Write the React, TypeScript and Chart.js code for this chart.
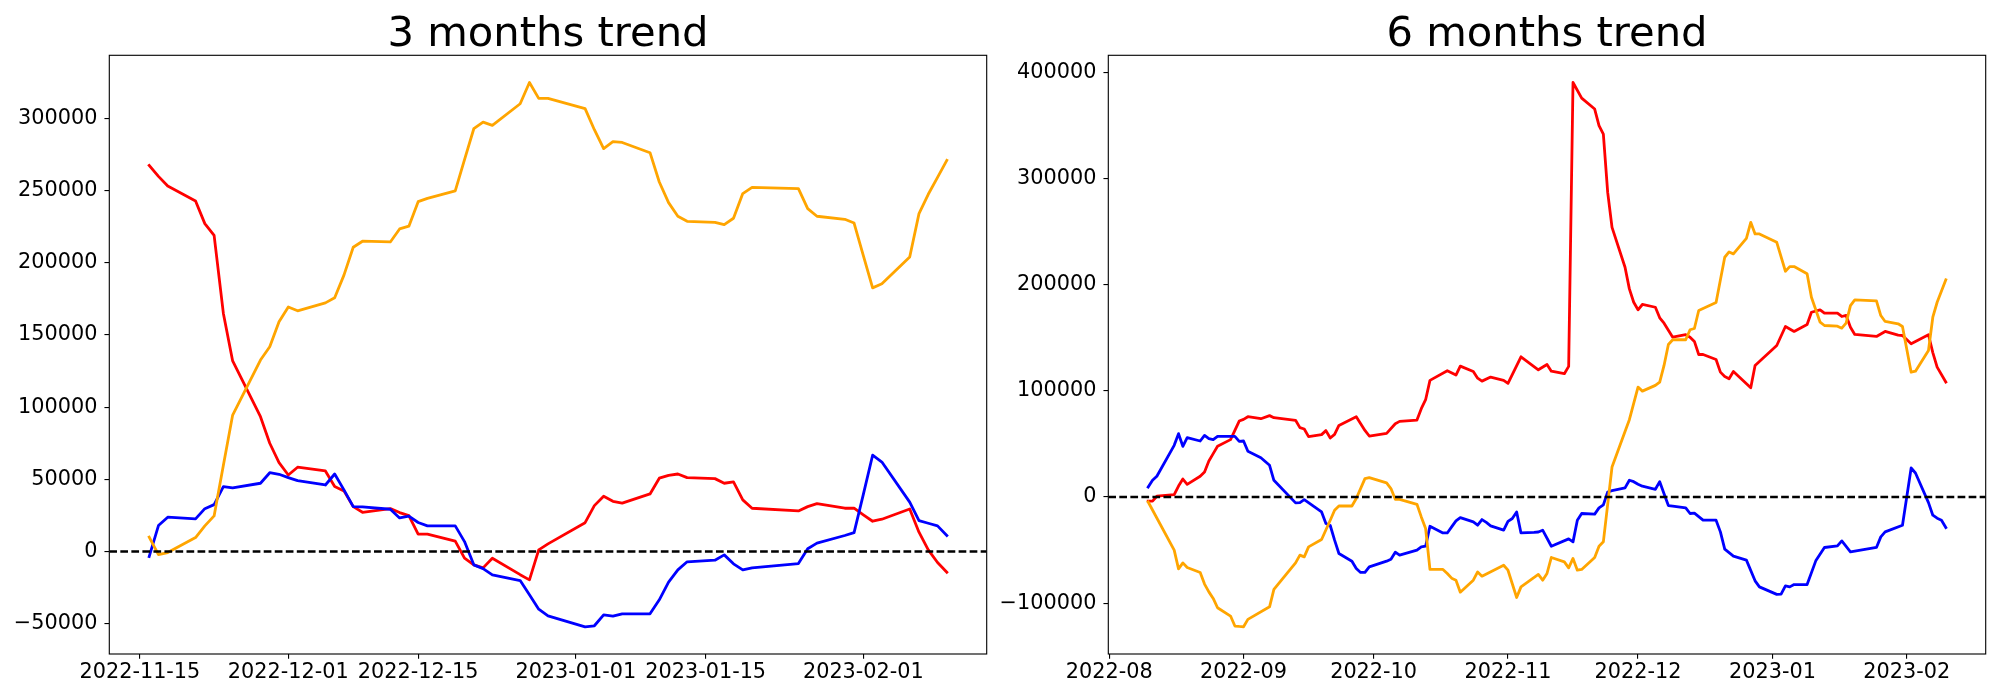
import React, { useEffect, useRef } from 'react';
import { Chart, registerables } from 'chart.js';

Chart.register(...registerables);

// ---------- 3 months panel (shared dates) ----------
const threeMonthDates = [
  '2022-11-16', '2022-11-17', '2022-11-18', '2022-11-21', '2022-11-22', '2022-11-23', '2022-11-24', '2022-11-25',
  '2022-11-28', '2022-11-29', '2022-11-30', '2022-12-01', '2022-12-02', '2022-12-05', '2022-12-06', '2022-12-07',
  '2022-12-08', '2022-12-09', '2022-12-12', '2022-12-13', '2022-12-14', '2022-12-15', '2022-12-16', '2022-12-19',
  '2022-12-20', '2022-12-21', '2022-12-22', '2022-12-23', '2022-12-26', '2022-12-27', '2022-12-28', '2022-12-29',
  '2023-01-02', '2023-01-03', '2023-01-04', '2023-01-05', '2023-01-06', '2023-01-09', '2023-01-10', '2023-01-11',
  '2023-01-12', '2023-01-13', '2023-01-16', '2023-01-17', '2023-01-18', '2023-01-19', '2023-01-20', '2023-01-25',
  '2023-01-26', '2023-01-27', '2023-01-30', '2023-01-31', '2023-02-01', '2023-02-02', '2023-02-03', '2023-02-06',
  '2023-02-07', '2023-02-08', '2023-02-09', '2023-02-10',
];
const threeMonthRed = [
  267400, 259800, 253100, 242800, 227100, 219000, 164900, 132000,
  93400, 75000, 61600, 53000, 58400, 55800, 45000, 42000,
  31100, 27200, 29700, 27000, 24900, 12000, 12000, 7200,
  -4600, -9200, -11300, -4600, -16000, -19600, 1200, 5300,
  20000, 31800, 38300, 34800, 33500, 39900, 50800, 52800,
  53700, 51200, 50500, 47300, 48200, 35800, 30000, 28100,
  31100, 33200, 30000, 30000, 25400, 21000, 22400, 29500,
  13400, 1200, -7600, -14300,
];
const threeMonthOrange = [
  9950, -2070, -690, 9700, 17800, 24700, 59700, 94500,
  132600, 141800, 159100, 169400, 166700, 172200, 175700, 191400,
  210700, 214900, 214400, 223400, 225300, 242300, 244600, 249700,
  271400, 292800, 297400, 295100, 310100, 324800, 313800, 313800,
  306700, 292100, 279000, 283800, 283300, 276200, 255900, 241600,
  232200, 228700, 228000, 226400, 230800, 247900, 252200, 251300,
  237500, 232200, 230100, 227500, 205000, 182600, 185400, 204000,
  234000, 247400, 259100, 270900,
];
const threeMonthBlue = [
  -3500, 18000, 23800, 22600, 29700, 32500, 45000, 44100,
  47300, 54600, 53500, 51200, 49100, 46100, 53700, 42700,
  31100, 30900, 29300, 23300, 24500, 20100, 17800, 17800,
  6900, -9200, -11800, -16100, -20100, -29900, -39900, -44500,
  -52100, -51400, -43800, -44700, -43100, -43100, -33400, -21200,
  -12700, -7100, -6000, -2300, -8500, -12700, -11300, -8300,
  1900, 5800, 11100, 13100, 39600, 66700, 62000, 34200,
  21400, 19600, 17800, 11100,
];
const threeMonthXTicks = ['2022-11-15', '2022-12-01', '2022-12-15', '2023-01-01', '2023-01-15', '2023-02-01'];
const threeMonthYTicks = [-50000, 0, 50000, 100000, 150000, 200000, 250000, 300000];

// ---------- 6 months panel ----------
const sixMonthRedDates = [
  '2022-08-10', '2022-08-11', '2022-08-12', '2022-08-16', '2022-08-17', '2022-08-18', '2022-08-19', '2022-08-22',
  '2022-08-23', '2022-08-24', '2022-08-25', '2022-08-26', '2022-08-29', '2022-08-30', '2022-08-31', '2022-09-01',
  '2022-09-02', '2022-09-05', '2022-09-07', '2022-09-08', '2022-09-13', '2022-09-14', '2022-09-15', '2022-09-16',
  '2022-09-19', '2022-09-20', '2022-09-21', '2022-09-22', '2022-09-23', '2022-09-27', '2022-09-29', '2022-09-30',
  '2022-10-04', '2022-10-06', '2022-10-07', '2022-10-11', '2022-10-12', '2022-10-13', '2022-10-14', '2022-10-18',
  '2022-10-20', '2022-10-21', '2022-10-24', '2022-10-25', '2022-10-26', '2022-10-28', '2022-10-31', '2022-11-01',
  '2022-11-04', '2022-11-08', '2022-11-10', '2022-11-11', '2022-11-14', '2022-11-15', '2022-11-16', '2022-11-18',
  '2022-11-21', '2022-11-22', '2022-11-23', '2022-11-24', '2022-11-25', '2022-11-28', '2022-11-29', '2022-11-30',
  '2022-12-01', '2022-12-02', '2022-12-05', '2022-12-06', '2022-12-07', '2022-12-09', '2022-12-12', '2022-12-13',
  '2022-12-14', '2022-12-15', '2022-12-16', '2022-12-19', '2022-12-20', '2022-12-21', '2022-12-22', '2022-12-23',
  '2022-12-27', '2022-12-28', '2023-01-02', '2023-01-04', '2023-01-06', '2023-01-09', '2023-01-10', '2023-01-12',
  '2023-01-13', '2023-01-16', '2023-01-17', '2023-01-18', '2023-01-19', '2023-01-20', '2023-01-25', '2023-01-27',
  '2023-01-30', '2023-01-31', '2023-02-02', '2023-02-06', '2023-02-07', '2023-02-08', '2023-02-10',
];
const sixMonthRed = [
  -4000, -4000, 700, 2200, 10300, 16900, 11900, 19500,
  23500, 33900, 40800, 47700, 54000, 62700, 71500, 73100,
  75600, 73700, 76600, 74700, 72200, 65300, 64000, 56800,
  58700, 62500, 55500, 59000, 67400, 75600, 62700, 57400,
  59900, 69000, 71200, 72400, 83200, 91600, 109800, 118900,
  114800, 123200, 118200, 111900, 109100, 112900, 109800, 107000,
  132000, 119800, 124800, 118500, 116100, 123000, 390400, 375700,
  365400, 349700, 341800, 286900, 254000, 216400, 196000, 183400,
  176300, 181300, 178700, 168800, 163700, 150500, 152800, 150500,
  146500, 134200, 134200, 129500, 117600, 113500, 111400, 118200,
  102900, 123900, 142700, 160600, 155900, 162500, 174000, 176300,
  173100, 173100, 170000, 171000, 159900, 153100, 151200, 155900,
  152400, 152100, 144300, 152800, 136000, 122300, 108200,
];

const sixMonthOrangeDates = [
  '2022-08-10', '2022-08-16', '2022-08-17', '2022-08-18', '2022-08-19', '2022-08-22', '2022-08-23', '2022-08-24',
  '2022-08-25', '2022-08-26', '2022-08-29', '2022-08-30', '2022-08-31', '2022-09-01', '2022-09-02', '2022-09-07',
  '2022-09-08', '2022-09-13', '2022-09-14', '2022-09-15', '2022-09-16', '2022-09-19', '2022-09-21', '2022-09-22',
  '2022-09-23', '2022-09-26', '2022-09-27', '2022-09-29', '2022-09-30', '2022-10-04', '2022-10-05', '2022-10-06',
  '2022-10-07', '2022-10-11', '2022-10-12', '2022-10-13', '2022-10-14', '2022-10-17', '2022-10-18', '2022-10-19',
  '2022-10-20', '2022-10-21', '2022-10-24', '2022-10-25', '2022-10-26', '2022-10-31', '2022-11-01', '2022-11-03',
  '2022-11-04', '2022-11-08', '2022-11-09', '2022-11-10', '2022-11-11', '2022-11-14', '2022-11-15', '2022-11-16',
  '2022-11-17', '2022-11-18', '2022-11-21', '2022-11-22', '2022-11-23', '2022-11-24', '2022-11-25', '2022-11-28',
  '2022-11-29', '2022-12-01', '2022-12-02', '2022-12-05', '2022-12-06', '2022-12-07', '2022-12-08', '2022-12-09',
  '2022-12-12', '2022-12-13', '2022-12-14', '2022-12-15', '2022-12-19', '2022-12-21', '2022-12-22', '2022-12-23',
  '2022-12-26', '2022-12-27', '2022-12-28', '2022-12-29', '2023-01-02', '2023-01-04', '2023-01-05', '2023-01-06',
  '2023-01-09', '2023-01-10', '2023-01-12', '2023-01-13', '2023-01-16', '2023-01-17', '2023-01-18', '2023-01-19',
  '2023-01-20', '2023-01-25', '2023-01-26', '2023-01-27', '2023-01-30', '2023-01-31', '2023-02-02', '2023-02-03',
  '2023-02-06', '2023-02-07', '2023-02-08', '2023-02-10',
];
const sixMonthOrange = [
  -4700, -50100, -67700, -62100, -66400, -71100, -82100, -89400,
  -95600, -104400, -112200, -121600, -122000, -122300, -115300, -103500,
  -87100, -62100, -54800, -56400, -47000, -40100, -21900, -12500,
  -8500, -8500, -1500, 17300, 18200, 13200, 7900, -2200,
  -2200, -6900, -18800, -29700, -68300, -68300, -72100, -76500,
  -78400, -89700, -78400, -70600, -74600, -64300, -69000, -94700,
  -84700, -73000, -78400, -72100, -57000, -61100, -66800, -57900,
  -69000, -68300, -57000, -46400, -42300, -7000, 28200, 61600,
  72800, 103500, 99700, 105100, 108200, 123900, 143600, 148100,
  148100, 157500, 158700, 175600, 183200, 225800, 230800, 229000,
  243600, 258700, 247800, 247800, 239900, 212600, 217000, 217000,
  210200, 188100, 164600, 161500, 160900, 159000, 163700, 180300,
  185700, 184700, 170900, 165300, 163100, 160600, 117500, 118500,
  138000, 169300, 183400, 204500,
];

const sixMonthBlueDates = [
  '2022-08-10', '2022-08-11', '2022-08-12', '2022-08-16', '2022-08-17', '2022-08-18', '2022-08-19', '2022-08-22',
  '2022-08-23', '2022-08-24', '2022-08-25', '2022-08-26', '2022-08-30', '2022-08-31', '2022-09-01', '2022-09-02',
  '2022-09-05', '2022-09-07', '2022-09-08', '2022-09-13', '2022-09-14', '2022-09-15', '2022-09-19', '2022-09-20',
  '2022-09-21', '2022-09-22', '2022-09-23', '2022-09-26', '2022-09-27', '2022-09-28', '2022-09-29', '2022-09-30',
  '2022-10-04', '2022-10-05', '2022-10-06', '2022-10-07', '2022-10-11', '2022-10-12', '2022-10-13', '2022-10-14',
  '2022-10-17', '2022-10-18', '2022-10-19', '2022-10-20', '2022-10-21', '2022-10-24', '2022-10-25', '2022-10-26',
  '2022-10-27', '2022-10-28', '2022-10-31', '2022-11-01', '2022-11-02', '2022-11-03', '2022-11-04', '2022-11-07',
  '2022-11-08', '2022-11-09', '2022-11-11', '2022-11-15', '2022-11-16', '2022-11-17', '2022-11-18', '2022-11-21',
  '2022-11-22', '2022-11-23', '2022-11-24', '2022-11-25', '2022-11-28', '2022-11-29', '2022-11-30', '2022-12-01',
  '2022-12-02', '2022-12-05', '2022-12-06', '2022-12-07', '2022-12-08', '2022-12-09', '2022-12-12', '2022-12-13',
  '2022-12-14', '2022-12-16', '2022-12-19', '2022-12-20', '2022-12-21', '2022-12-23', '2022-12-26', '2022-12-28',
  '2022-12-29', '2023-01-02', '2023-01-03', '2023-01-04', '2023-01-05', '2023-01-06', '2023-01-09', '2023-01-11',
  '2023-01-13', '2023-01-16', '2023-01-17', '2023-01-19', '2023-01-25', '2023-01-26', '2023-01-27', '2023-01-31',
  '2023-02-02', '2023-02-03', '2023-02-06', '2023-02-07', '2023-02-08', '2023-02-09', '2023-02-10',
];
const sixMonthBlue = [
  9400, 15700, 19500, 48600, 59600, 47700, 55800, 52700,
  58000, 54900, 54000, 57100, 57100, 52400, 52700, 43000,
  37000, 29800, 15700, -5600, -5300, -2500, -14100, -25000,
  -26900, -40700, -53300, -60500, -67400, -71100, -71100, -65800,
  -60500, -58600, -52000, -54800, -50100, -47000, -46400, -27600,
  -33900, -33900, -28200, -22600, -19400, -23500, -26600, -21300,
  -24000, -27200, -31300, -23000, -20300, -14100, -33900, -33300,
  -33000, -31300, -46400, -39500, -42300, -21900, -15600, -16200,
  -10300, -7500, 4700, 6000, 8500, 15700, 14400, 12000,
  10100, 7200, 14400, 3000, -8100, -8700, -10300, -15600,
  -15300, -21900, -21900, -32900, -49200, -55800, -59500, -79000,
  -84700, -91800, -91500, -83700, -84700, -82500, -82500, -60200,
  -47600, -46100, -41400, -51700, -47600, -37600, -32900, -26600,
  27300, 22600, -5300, -17200, -20000, -21900, -28800,
];
const sixMonthXTicks = ['2022-08', '2022-09', '2022-10', '2022-11', '2022-12', '2023-01', '2023-02'];
const sixMonthYTicks = [-100000, 0, 100000, 200000, 300000, 400000];

const RED = '#ff0000';
const ORANGE = '#ffa500';
const BLUE = '#0000ff';

// ---------- helpers ----------
const DAY_MS = 86400000;
function dayNum(s: string): number {
  const parts = s.split('-').map(Number);
  return Date.UTC(parts[0], parts[1] - 1, parts[2] || 1) / DAY_MS;
}
function fmtNum(v: number): string {
  return v < 0 ? '\u2212' + String(Math.abs(v)) : String(v);
}

const PLOT_TOP = 55.3;
const PLOT_BOTTOM = 654;
const HEIGHT = 700;
const FONT = { family: 'DejaVu Sans', size: 20.8 };
const LINE_W = 2.8;
const DASH_W = 2.4;
const SPINE_W = 1.11;

type Series = { dates: string[]; values: number[]; color: string };

function Panel(props: {
  left: number; width: number; plotLeft: number; plotRight: number; title: string;
  series: Series[]; xTicks: string[]; yTicks: number[];
}) {
  const ref = useRef<HTMLCanvasElement | null>(null);

  useEffect(() => {
    const { left, width, plotLeft, plotRight, title, series, xTicks, yTicks } = props;
    const xs: number[] = [];
    const ys: number[] = [0];
    series.forEach((s) => {
      s.dates.forEach((d) => xs.push(dayNum(d)));
      s.values.forEach((v) => ys.push(v));
    });
    const x0 = Math.min(...xs), x1 = Math.max(...xs);
    const y0 = Math.min(...ys), y1 = Math.max(...ys);
    const xMin = x0 - (x1 - x0) * 0.05, xMax = x1 + (x1 - x0) * 0.05;
    const yMin = y0 - (y1 - y0) * 0.05, yMax = y1 + (y1 - y0) * 0.05;

    const lineDatasets = series.map((s) => ({
      data: s.dates.map((d, i) => ({ x: dayNum(d), y: s.values[i] })),
      borderColor: s.color,
      backgroundColor: s.color,
      borderWidth: LINE_W,
      pointRadius: 0,
      tension: 0,
      fill: false,
      borderJoinStyle: 'round',
      borderCapStyle: 'square',
    }));

    const zeroLine = {
      data: [{ x: xMin, y: 0 }, { x: xMax, y: 0 }],
      borderColor: '#000000',
      borderWidth: DASH_W,
      borderDash: [7.7, 3.33],
      pointRadius: 0,
      fill: false,
    };

    const gridOpts = {
      display: true,
      drawOnChartArea: false,
      drawTicks: true,
      tickLength: 4.86,
      tickWidth: SPINE_W,
      tickColor: '#000000',
      color: '#000000',
      lineWidth: SPINE_W,
    };

    const framePlugin = {
      id: 'frameAndTitle',
      afterDatasetsDraw(chart: any) {
        const { ctx, chartArea: a } = chart;
        ctx.save();
        ctx.strokeStyle = '#000000';
        ctx.lineWidth = SPINE_W;
        ctx.strokeRect(a.left, a.top, a.right - a.left, a.bottom - a.top);
        ctx.font = '41.7px "DejaVu Sans"';
        ctx.fillStyle = '#000000';
        ctx.textAlign = 'center';
        ctx.textBaseline = 'alphabetic';
        ctx.fillText(title, (a.left + a.right) / 2, a.top - 9.3);
        ctx.restore();
      },
    };

    const chart = new Chart(ref.current as HTMLCanvasElement, {
      type: 'line',
      data: { datasets: [zeroLine, ...lineDatasets] as any },
      options: {
        responsive: false,
        animation: false,
        devicePixelRatio: 1,
        events: [],
        layout: { padding: { top: PLOT_TOP, left: 0, bottom: 0, right: width - (plotRight - left) } },
        plugins: { legend: { display: false }, tooltip: { enabled: false }, title: { display: false } },
        scales: {
          x: {
            type: 'linear',
            min: xMin,
            max: xMax,
            bounds: 'data',
            afterBuildTicks: (s: any) => { s.ticks = xTicks.map((t) => ({ value: dayNum(t) })); },
            afterFit: (s: any) => { s.height = HEIGHT - PLOT_BOTTOM; },
            ticks: {
              autoSkip: false, maxRotation: 0, minRotation: 0, padding: 1,
              color: '#000000', font: FONT,
              callback: (_v: any, i: number) => xTicks[i],
            },
            grid: gridOpts,
            border: { display: false },
          },
          y: {
            type: 'linear',
            min: yMin,
            max: yMax,
            bounds: 'data',
            afterBuildTicks: (s: any) => { s.ticks = yTicks.map((v) => ({ value: v })); },
            afterFit: (s: any) => { s.width = plotLeft - left; },
            ticks: {
              padding: 7, color: '#000000', font: FONT,
              callback: (v: any) => fmtNum(Number(v)),
            },
            grid: gridOpts,
            border: { display: false },
          },
        },
      } as any,
      plugins: [framePlugin],
    });
    return () => chart.destroy();
  }, []);

  return (
    <canvas
      ref={ref}
      width={props.width}
      height={HEIGHT}
      style={{ position: 'absolute', left: props.left, top: 0, width: props.width, height: HEIGHT }}
    />
  );
}

export default function App() {
  // dataset order: first is drawn on top
  const threeSeries: Series[] = [
    { dates: threeMonthDates, values: threeMonthOrange, color: ORANGE },
    { dates: threeMonthDates, values: threeMonthBlue, color: BLUE },
    { dates: threeMonthDates, values: threeMonthRed, color: RED },
  ];
  const sixSeries: Series[] = [
    { dates: sixMonthOrangeDates, values: sixMonthOrange, color: ORANGE },
    { dates: sixMonthBlueDates, values: sixMonthBlue, color: BLUE },
    { dates: sixMonthRedDates, values: sixMonthRed, color: RED },
  ];
  return (
    <div style={{ position: 'absolute', left: 0, top: 0, width: 2000, height: HEIGHT, background: '#ffffff' }}>
      <Panel left={0} width={1000} plotLeft={109.3} plotRight={986.7} title="3 months trend"
        series={threeSeries} xTicks={threeMonthXTicks} yTicks={threeMonthYTicks} />
      <Panel left={990} width={1010} plotLeft={1108.3} plotRight={1985.7} title="6 months trend"
        series={sixSeries} xTicks={sixMonthXTicks} yTicks={sixMonthYTicks} />
    </div>
  );
}
